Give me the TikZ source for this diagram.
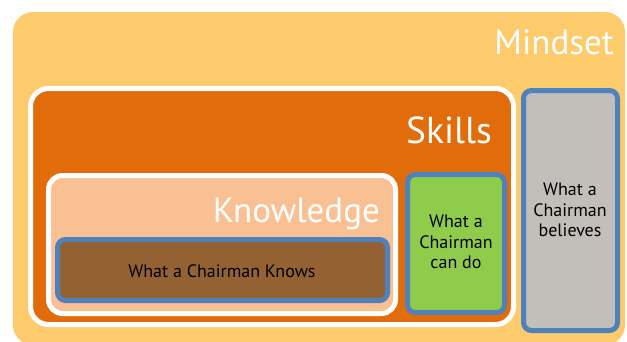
\documentclass[tikz,border=0pt]{standalone}
\usepackage{fontspec}
\setmainfont{PT Sans}
\definecolor{mindc}{HTML}{FDCB6B}
\definecolor{skillc}{HTML}{E36C0A}
\definecolor{knowc}{HTML}{F9C193}
\definecolor{brownc}{HTML}{946232}
\definecolor{greenc}{HTML}{90CC4C}
\definecolor{grayc}{HTML}{C2BEB9}
\definecolor{bluec}{HTML}{4F81BD}
\begin{document}
\begin{tikzpicture}[x=1pt,y=-1pt,
  bigtitle/.style={text=white,inner sep=0pt,anchor=base east},
  smalltxt/.style={text=black,font=\fontsize{18}{20.5}\selectfont,align=center,inner sep=0pt},
  inbox/.style={draw=bluec,line width=5pt,rounded corners=8pt}]
\useasboundingbox (0,0) rectangle (627,341);
\begin{scope}
\clip (0,0) rectangle (627,341);
\path[fill=mindc,rounded corners=20pt] (13,12) rectangle (625,345);
\end{scope}
\draw[fill=skillc,draw=white,line width=5pt,rounded corners=18pt] (30.5,88.5) rectangle (513.5,324.5);
\draw[fill=knowc,draw=white,line width=5pt,rounded corners=14pt] (48.5,175.5) rectangle (395.5,313.5);
\draw[inbox,fill=brownc] (57.5,239.5) rectangle (387.5,300.5);
\draw[inbox,fill=greenc] (407.5,174.5) rectangle (504.5,312.5);
\draw[inbox,fill=grayc] (523.5,90.5) rectangle (617.5,330.5);
\node[bigtitle,font=\fontsize{35}{40}\selectfont] (mindset) at (614,54) {Mindset};
\node[bigtitle,font=\fontsize{37.5}{44}\selectfont] (skills) at (492,143) {Skills};
\node[bigtitle,font=\fontsize{35}{42}\selectfont] (knowledge) at (380,222) {Knowledge};
\node[smalltxt] (knows) at (222,271) {What a Chairman Knows};
\node[smalltxt] (cando) at (456,242) {What a\\Chairman\\can do};
\node[smalltxt] (believes) at (570,210) {What a\\Chairman\\believes};
\end{tikzpicture}
\end{document}
